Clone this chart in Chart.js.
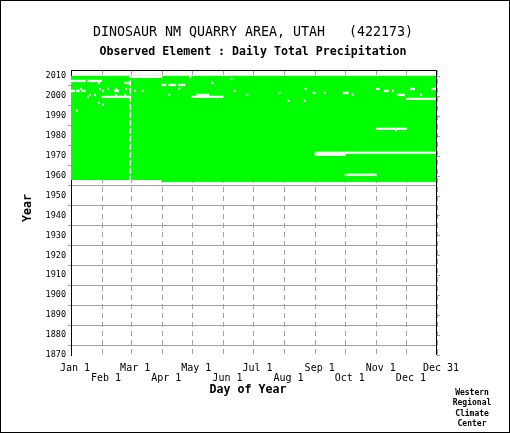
<!DOCTYPE html>
<html lang="en">

<head>
  <meta charset="UTF-8">
  <title>Dinosaur NM Quarry Area - data coverage</title>
  <script src="https://cdn.jsdelivr.net/npm/chart.js@4.4.0/dist/chart.umd.min.js"></script>
  <style>
    body { margin: 0; background: #fff; }
    canvas { display: block; }
  </style>
</head>

<body>
  <canvas id="coverage" width="510" height="433"></canvas>
</body>

<script>
  // years with a full record, plus the first (partial) year
  const partialRows = [[1957, 92, 366]];
  const fullYears = [1958, 1959, 1960, 1961, 1962, 1963, 1964, 1965, 1966, 1967,
    1968, 1969, 1970, 1971, 1972, 1973, 1974, 1975, 1976, 1977,
    1978, 1979, 1980, 1981, 1982, 1983, 1984, 1985, 1986, 1987,
    1988, 1989, 1990, 1991, 1992, 1993, 1994, 1995, 1996, 1997,
    1998, 1999, 2000, 2001, 2002, 2003, 2004, 2005, 2006, 2007,
    2008, 2009];
  const leapYears = [1960, 1964, 1968, 1972, 1976, 1980, 1984, 1988, 1992, 1996, 2000, 2004, 2008];
  const feb29 = 60;

  // [year, first missing day, last missing day]
  const missingSpans = [
    [2009, 61, 91], [2009, 120, 120],
    [2008, 161, 161],
    [2007, 1, 15], [2007, 18, 31],
    [2006, 29, 29], [2006, 55, 55], [2006, 57, 58], [2006, 142, 142],
    [2005, 92, 95], [2005, 99, 105], [2005, 109, 114],
    [2003, 11, 11], [2003, 30, 30], [2003, 38, 38], [2003, 46, 46], [2003, 56, 56], [2003, 109, 109],
    [2003, 235, 235], [2003, 306, 308], [2003, 340, 343], [2003, 361, 365],
    [2002, 2, 4], [2002, 7, 9], [2002, 12, 15], [2002, 33, 33], [2002, 45, 48], [2002, 65, 65],
    [2002, 73, 73], [2002, 164, 164], [2002, 314, 317], [2002, 322, 322],
    [2001, 209, 209], [2001, 243, 244], [2001, 254, 254], [2001, 273, 277],
    [2000, 20, 20], [2000, 25, 25], [2000, 46, 46], [2000, 55, 55], [2000, 99, 99], [2000, 127, 138],
    [2000, 177, 177], [2000, 282, 282], [2000, 327, 333], [2000, 350, 350],
    [1999, 18, 18], [1999, 32, 59], [1999, 122, 152],
    [1998, 336, 366],
    [1997, 218, 218], [1997, 234, 234],
    [1996, 29, 29],
    [1995, 33, 33],
    [1992, 7, 7],
    [1983, 306, 335], [1982, 325, 325],
    [1971, 245, 366], [1970, 245, 274],
    [1960, 275, 305]
  ];

  const yearTicks = [1870, 1880, 1890, 1900, 1910, 1920, 1930, 1940, 1950, 1960, 1970, 1980, 1990, 2000, 2010];
  const monthDays = [1, 32, 61, 92, 122, 153, 183, 214, 245, 275, 306, 336, 366];
  const monthLabels = ['Jan 1', 'Feb 1', 'Mar 1', 'Apr 1', 'May 1', 'Jun 1', 'Jul 1',
    'Aug 1', 'Sep 1', 'Oct 1', 'Nov 1', 'Dec 1', 'Dec 31'];

  const GRID = '#a0a0a0';
  const MONO = "'DejaVu Sans Mono', 'Liberation Mono', monospace";

  // one row per year, days d cover [d - .5, d + .5]
  const row = (year, from, to) => ({ x: [from - 0.5, to + 0.5], y: year + 0.5 });

  const recordBars = partialRows.map(r => row(r[0], r[1], r[2]))
    .concat(fullYears.map(y => row(y, 1, 366)));

  const gapBars = missingSpans.map(g => row(g[0], g[1], g[2]))
    .concat(fullYears.filter(y => !leapYears.includes(y)).map(y => row(y, feb29, feb29)));

  const decorations = {
    id: 'decorations',
    afterDraw(chart) {
      const { ctx, chartArea: a, scales: { y } } = chart;
      ctx.save();

      // top and right edge of the plot box
      ctx.strokeStyle = '#000';
      ctx.lineWidth = 1;
      ctx.beginPath();
      ctx.moveTo(a.left, a.top + 0.5);
      ctx.lineTo(a.right - 0.5, a.top + 0.5);
      ctx.lineTo(a.right - 0.5, a.bottom);
      ctx.stroke();

      // right side tick marks
      ctx.strokeStyle = GRID;
      ctx.beginPath();
      for (const t of y.ticks) {
        const py = Math.round(y.getPixelForValue(t.value)) + 0.5;
        ctx.moveTo(a.right, py);
        ctx.lineTo(a.right + 3, py);
      }
      ctx.stroke();

      // outer frame
      ctx.strokeStyle = '#000';
      ctx.strokeRect(0.5, 0.5, chart.width - 1, chart.height - 1);

      ctx.fillStyle = '#000';
      ctx.textAlign = 'center';
      ctx.textBaseline = 'middle';
      ctx.font = '13.3px ' + MONO;
      ctx.fillText('DINOSAUR NM QUARRY AREA, UTAH   (422173)', 253, 33);
      ctx.font = 'bold 11.6px ' + MONO;
      ctx.fillText('Observed Element : Daily Total Precipitation', 253, 52);
      ctx.fillText('Day of Year', 248, 390);

      ctx.save();
      ctx.translate(28, 208);
      ctx.rotate(-Math.PI / 2);
      ctx.fillText('Year', 0, 0);
      ctx.restore();

      ctx.font = 'bold 8px ' + MONO;
      ['Western', 'Regional', 'Climate', 'Center'].forEach((s, i) => {
        ctx.fillText(s, 472, 393 + i * 10.3);
      });
      ctx.restore();
    }
  };

  new Chart(document.getElementById('coverage'), {
    type: 'bar',
    data: {
      datasets: [{
        label: 'missing',
        data: gapBars,
        backgroundColor: '#ffffff',
        borderWidth: 0,
        grouped: false,
        order: 0,
        barPercentage: 0.7,
        categoryPercentage: 1,
        inflateAmount: 0.45
      }, {
        label: 'record',
        data: recordBars,
        backgroundColor: '#00ff00',
        borderWidth: 0,
        grouped: false,
        order: 1,
        barPercentage: 1,
        categoryPercentage: 1
      }]
    },
    options: {
      indexAxis: 'y',
      responsive: false,
      devicePixelRatio: 1,
      animation: false,
      layout: { padding: { top: 70, left: 0, right: 73, bottom: 0 } },
      plugins: {
        legend: { display: false },
        tooltip: { enabled: false }
      },
      scales: {
        x: {
          type: 'linear',
          min: 1,
          max: 366,
          afterBuildTicks: scale => { scale.ticks = monthDays.map(v => ({ value: v })); },
          afterFit: scale => { scale.height = 78; },
          grid: { color: GRID, drawTicks: false },
          border: { display: false, dash: [5, 4] },
          ticks: {
            autoSkip: false,
            maxRotation: 0,
            padding: 8,
            labelOffset: 4,
            color: '#000',
            font: { family: MONO, size: 10, lineHeight: 1 },
            callback: (v, i) => i % 2 === 0 ? monthLabels[i] : ['', monthLabels[i]]
          }
        },
        y: {
          type: 'linear',
          min: 1870,
          max: 2013,
          offset: false,
          afterBuildTicks: scale => { scale.ticks = yearTicks.map(v => ({ value: v })); },
          afterFit: scale => { scale.width = 71; },
          grid: { color: GRID, tickColor: GRID, tickLength: 3 },
          border: { display: true, color: '#000', width: 1 },
          ticks: {
            padding: 2,
            color: '#000',
            font: { family: MONO, size: 8.5 },
            callback: v => String(v)
          }
        }
      }
    },
    plugins: [decorations]
  });
</script>

</html>
